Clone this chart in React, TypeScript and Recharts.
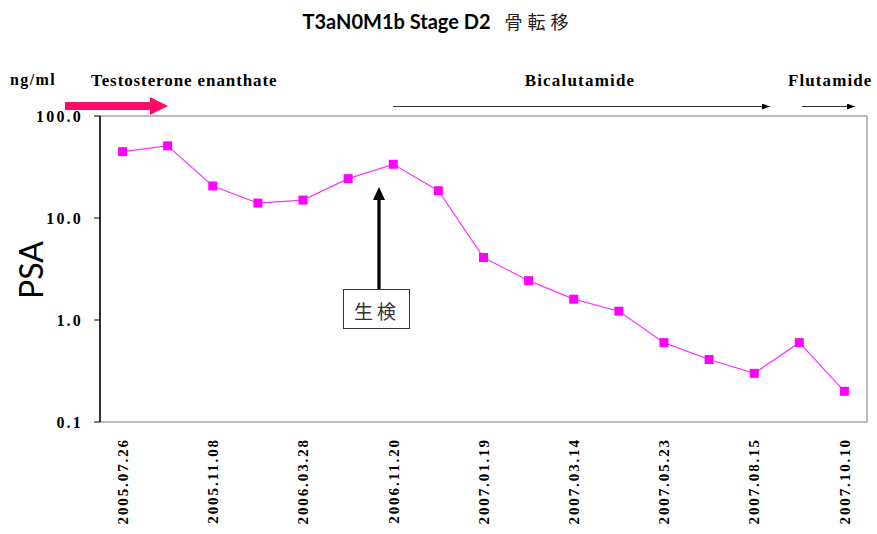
import { Line, LineChart, ReferenceArea, XAxis, YAxis } from "recharts";

// PSA readings (ng/ml), one per visit; only every second visit carries a date label
const visitIdx = [0, 1, 2, 3, 4, 5, 6, 7, 8, 9, 10, 11, 12, 13, 14, 15, 16];
const psa = [44.7, 51, 20.6, 14, 15, 24.3, 33.6, 18.5, 4.1, 2.43, 1.6, 1.22, 0.6, 0.41, 0.3, 0.6, 0.2];
const dateLabels: Record<number, string> = {
  0: "2005.07.26",
  2: "2005.11.08",
  4: "2006.03.28",
  6: "2006.11.20",
  8: "2007.01.19",
  10: "2007.03.14",
  12: "2007.05.23",
  14: "2007.08.15",
  16: "2007.10.10",
};
const labelTicks = [0, 2, 4, 6, 8, 10, 12, 14, 16];
const boundaryTicks = [-0.5, 1.5, 3.5, 5.5, 7.5, 9.5, 11.5, 13.5, 15.5];
const yTicks = [0.1, 1, 10, 100];

const data = visitIdx.map((i) => ({ i, psa: psa[i] }));

const serif = "'Liberation Serif', 'Times New Roman', serif";

function DateTick({ x, y, payload }: any) {
  return (
    <text
      x={x}
      y={y}
      transform={`rotate(-90 ${x} ${y})`}
      textAnchor="end"
      dy="0.35em"
      fontFamily={serif}
      fontWeight="bold"
      fontSize={15}
      letterSpacing={1.9}
      fill="#000"
    >
      {dateLabels[payload.value] ?? ""}
    </text>
  );
}

function SquareDot({ cx, cy }: any) {
  if (cx == null || cy == null) return null;
  return <rect x={cx - 4.5} y={cy - 4.5} width={9} height={9} fill="#ff00ff" />;
}

function Annotations() {
  return (
    <svg width={877} height={534} style={{ position: "absolute", left: 0, top: 0, pointerEvents: "none" }}>
      <defs>
        <marker id="thinHead" markerWidth="8" markerHeight="6" refX="8" refY="3" orient="auto" markerUnits="userSpaceOnUse">
          <path d="M0,0 L8,3 L0,6 Z" fill="#000" />
        </marker>
      </defs>
      <text x={438} y={29} textAnchor="middle">
        <tspan fontFamily="Lato, sans-serif" fontWeight="bold" fontSize={20} fill="#000">
          T3aN0M1b Stage D2
        </tspan>
        <tspan dx={14} fontFamily="'Noto Sans CJK JP', sans-serif" fontSize={18} letterSpacing={5} fill="#222">
          骨転移
        </tspan>
      </text>
      <text x={10} y={85} fontFamily={serif} fontWeight="bold" fontSize={16} letterSpacing={1.4} fill="#000">
        ng/ml
      </text>
      <text x={91} y={86} fontFamily={serif} fontWeight="bold" fontSize={17} letterSpacing={0.9} fill="#000">
        Testosterone enanthate
      </text>
      <text x={580} y={86} textAnchor="middle" fontFamily={serif} fontWeight="bold" fontSize={17} letterSpacing={1.2} fill="#000">
        Bicalutamide
      </text>
      <text x={788} y={86} fontFamily={serif} fontWeight="bold" fontSize={17} letterSpacing={1.1} fill="#000">
        Flutamide
      </text>
      {/* treatment arrows */}
      <path d="M65,102 L150,102 L150,97 L168,106 L150,115 L150,110 L65,110 Z" fill="#ff0a66" />
      <line x1={393} y1={106.5} x2={770} y2={106.5} stroke="#333" strokeWidth={1.2} markerEnd="url(#thinHead)" />
      <line x1={802} y1={106.5} x2={855} y2={106.5} stroke="#333" strokeWidth={1.2} markerEnd="url(#thinHead)" />
      {/* PSA axis title */}
      <text
        x={30}
        y={270}
        transform="rotate(-90 30 270)"
        textAnchor="middle"
        dominantBaseline="central"
        fontFamily="Lato, sans-serif"
        fontSize={32}
        fill="#000"
      >
        PSA
      </text>
      {/* biopsy marker */}
      <line x1={379} y1={289} x2={379} y2={198} stroke="#000" strokeWidth={3.2} />
      <path d="M373,200 L379,187 L385,200 Z" fill="#000" />
      <rect x={343.5} y={289.5} width={66} height={39} fill="#fff" stroke="#333" strokeWidth={1} />
      <text
        x={377}
        y={310}
        textAnchor="middle"
        dominantBaseline="central"
        fontFamily="'Noto Sans CJK JP', sans-serif"
        fontSize={19}
        letterSpacing={4}
        fill="#333"
      >
        生検
      </text>
    </svg>
  );
}

export default function App() {
  return (
    <div style={{ position: "absolute", left: 0, top: 0, width: 877, height: 534, background: "#fff" }}>
      <LineChart width={877} height={534} data={data} margin={{ top: 116, right: 10, left: 0, bottom: 0 }}>
        <ReferenceArea
          xAxisId="lab"
          x1={-0.5}
          x2={16.5}
          y1={0.1}
          y2={100}
          fill="none"
          stroke="#a6a6a6"
          strokeWidth={1.5}
          ifOverflow="visible"
        />
        <XAxis
          xAxisId="tk"
          dataKey="i"
          type="number"
          domain={[-0.5, 16.5]}
          ticks={boundaryTicks}
          tick={false}
          tickSize={6}
          height={0}
          axisLine={{ stroke: "#444", strokeWidth: 1.5 }}
          tickLine={{ stroke: "#444" }}
        />
        <XAxis
          xAxisId="lab"
          dataKey="i"
          type="number"
          domain={[-0.5, 16.5]}
          ticks={labelTicks}
          interval={0}
          height={112}
          tickSize={0}
          tickMargin={16}
          axisLine={false}
          tickLine={false}
          tick={<DateTick />}
        />
        <YAxis
          scale="log"
          domain={[0.1, 100]}
          ticks={yTicks}
          allowDataOverflow
          width={100}
          tickSize={6}
          tickMargin={11}
          tickFormatter={(v: number) => v.toFixed(1)}
          axisLine={{ stroke: "#000", strokeWidth: 1.5 }}
          tickLine={{ stroke: "#000" }}
          tick={{ fontFamily: serif, fontWeight: "bold", fontSize: 16, letterSpacing: 2.2, fill: "#000" }}
        />
        <Line
          xAxisId="tk"
          dataKey="psa"
          stroke="none"
          dot={false}
          activeDot={false}
          legendType="none"
          isAnimationActive={false}
        />
        <Line
          xAxisId="lab"
          dataKey="psa"
          type="linear"
          stroke="#ff33ff"
          strokeWidth={1.2}
          dot={<SquareDot />}
          activeDot={false}
          isAnimationActive={false}
        />
      </LineChart>
      <Annotations />
    </div>
  );
}
